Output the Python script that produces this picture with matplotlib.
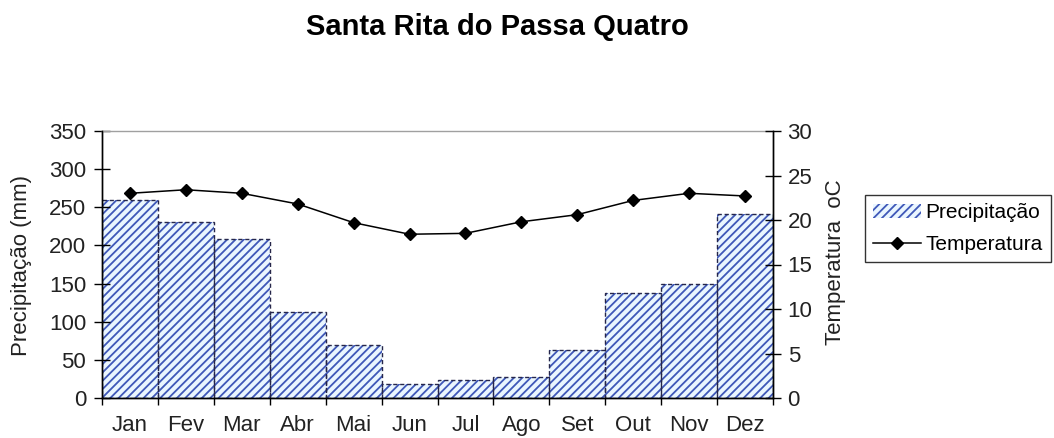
import matplotlib
matplotlib.use("Agg")
import matplotlib.pyplot as plt
import numpy as np

months = ["Jan", "Fev", "Mar", "Abr", "Mai", "Jun", "Jul", "Ago", "Set", "Out", "Nov", "Dez"]
precip = [260, 231, 208, 113, 69, 18, 24, 28, 63, 137, 150, 241]
temp = [23.0, 23.4, 23.0, 21.8, 19.7, 18.4, 18.5, 19.8, 20.6, 22.2, 23.0, 22.7]
left_ticks = [0, 50, 100, 150, 200, 250, 300, 350]
right_ticks = [0, 5, 10, 15, 20, 25, 30]

plt.rcParams['font.family'] = ['Liberation Sans', 'DejaVu Sans']
plt.rcParams['hatch.linewidth'] = 1.3

W, H = 1054, 438
fig = plt.figure(figsize=(W / 100, H / 100), dpi=100)
ax = fig.add_axes([102 / W, 1 - 398 / H, (773 - 102) / W, (398 - 131) / H])
ax2 = ax.twinx()

x = np.arange(len(months))
hatch_blue = '#3f58b8'
bars = ax.bar(x, precip, width=1.0, color='#eaf6ff', edgecolor=hatch_blue,
              hatch='////', linewidth=0, label='Precipitação')
ax.bar(x, precip, width=1.0, fill=False, edgecolor='#26264a',
       linewidth=1.0, linestyle=(0, (3, 2)))

line, = ax2.plot(x, temp, color='black', lw=1.1, marker='D', markersize=6,
                 label='Temperatura')

ax.set_xlim(-0.5, len(months) - 0.5)
ax.set_ylim(0, 350)
ax2.set_ylim(0, 30)
ax.set_yticks(left_ticks)
ax2.set_yticks(right_ticks)
ax.set_xticks(x)
ax.set_xticklabels(months)
ax.set_xticks(np.arange(-0.5, len(months)), minor=True)
ax.tick_params(axis='x', which='major', length=0, labelsize=16, pad=12)
ax.tick_params(axis='x', which='minor', direction='out', length=5, width=1)
ax.tick_params(axis='y', direction='inout', length=11, width=1, labelsize=16, pad=6)
ax2.tick_params(axis='y', direction='inout', length=11, width=1, labelsize=16, pad=5)
for lab in ax.get_yticklabels() + ax2.get_yticklabels() + ax.get_xticklabels():
    lab.set_color('#222222')

for a in (ax, ax2):
    for s in ('left', 'right', 'bottom'):
        a.spines[s].set_color('black')
        a.spines[s].set_linewidth(1.0)
ax.spines['top'].set_color('#a0a0a0')
ax.spines['top'].set_linewidth(1.0)
ax2.spines['top'].set_visible(False)

fig.text(22 / W, 1 - 265 / H, 'Precipitação (mm)', rotation=90, ha='center', va='center',
         fontsize=16, color='#222222')
fig.text(836 / W, 1 - 262 / H, 'Temperatura  oC', rotation=90, ha='center', va='center',
         fontsize=16, color='#222222')

fig.text(497 / W, 1 - 35 / H, 'Santa Rita do Passa Quatro', ha='center', va='baseline',
         fontsize=21, fontweight='bold')

leg = fig.legend(handles=[bars, line], labels=['Precipitação', 'Temperatura'],
                 loc='upper left', bbox_to_anchor=(865 / W, 1 - 195 / H),
                 fontsize=15, frameon=True, fancybox=False, edgecolor='black',
                 handlelength=2.3, handletextpad=0.2, borderpad=0.4, labelspacing=0.6,
                 borderaxespad=0)
leg.get_frame().set_linewidth(1.0)

fig.savefig('out.png', dpi=100)
